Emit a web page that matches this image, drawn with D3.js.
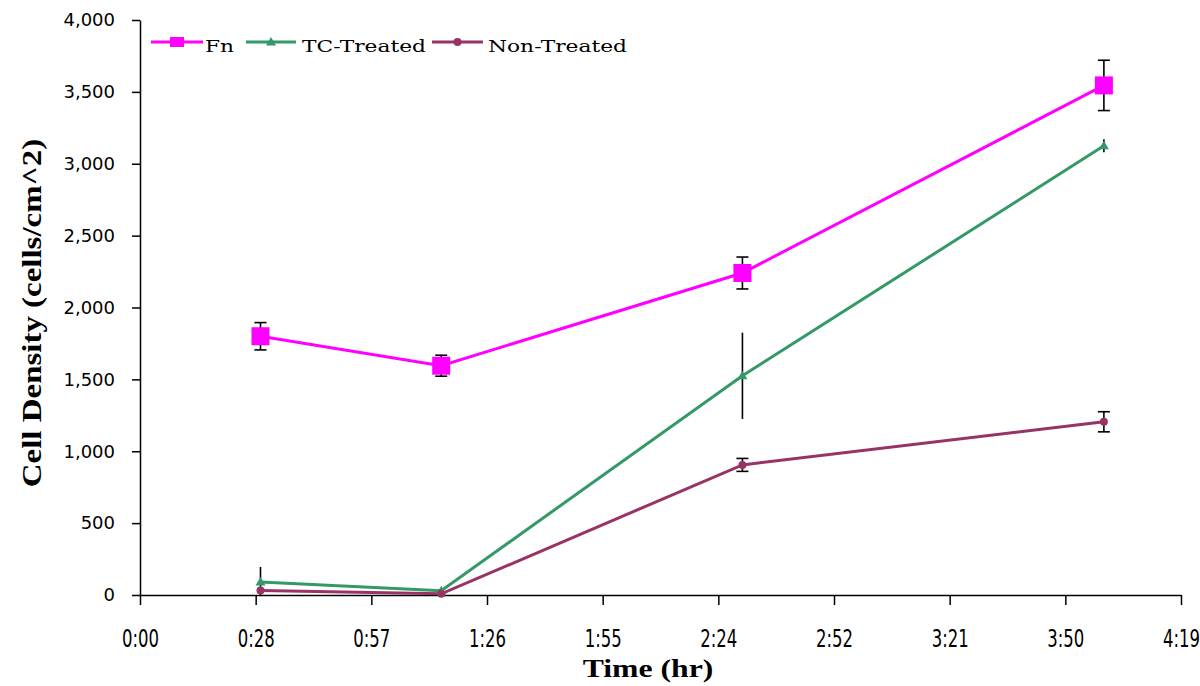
<!DOCTYPE html>
<html>
<head>
<meta charset="utf-8">
<script src="https://cdn.jsdelivr.net/npm/d3@7.9.0/dist/d3.min.js"></script>
<style>
  body { margin: 0; background: #fff; }
  svg { display: block; }
  text { font-family: "Liberation Serif", "DejaVu Serif", serif; fill: #000; }
</style>
</head>
<body>
<svg width="1200" height="686"></svg>
<script>
// time in minutes
const times = [30, 75, 150, 240];
const fn = [1800, 1595, 2240, 3545];
const fnErr = [95, 73, 111, 175];
const tc = [90, 30, 1525, 3125];
const tcErr = [105, 15, 300, 45];
const nonTreated = [32, 8, 905, 1205];
const nonErr = [0, 0, 45, 70];
const xTickLabels = ["0:00", "0:28", "0:57", "1:26", "1:55", "2:24", "2:52", "3:21", "3:50", "4:19"];
const yTicks = [0, 500, 1000, 1500, 2000, 2500, 3000, 3500, 4000];

const series = [
  {name: "Fn", values: fn, err: fnErr, color: "#ff00ff", marker: "square", caps: true},
  {name: "TC-Treated", values: tc, err: tcErr, color: "#339966", marker: "triangle", caps: false},
  {name: "Non-Treated", values: nonTreated, err: nonErr, color: "#993366", marker: "circle", caps: true}
];

const svg = d3.select("svg");
const plotLeft = 140, plotRight = 1181, plotTop = 20, plotBottom = 595;

const x = d3.scaleLinear().domain([0, 259.2]).range([plotLeft, plotRight]);
const y = d3.scaleLinear().domain([0, 4000]).range([plotBottom, plotTop]);

// x axis
const xAxis = svg.append("g")
  .attr("transform", `translate(0,${plotBottom})`)
  .call(d3.axisBottom(x)
    .tickValues(xTickLabels.map((d, i) => i * 28.8))
    .tickFormat("")
    .tickSize(10).tickSizeOuter(0));
xAxis.select(".domain").attr("stroke", "#000").attr("stroke-width", 1.5);
xAxis.selectAll(".tick line").attr("stroke", "#000").attr("stroke-width", 1.5);
xAxis.selectAll(".tick text").remove();
xAxis.selectAll(".tick").append("text")
  .attr("transform", "translate(0,52) scale(1,1.55)")
  .attr("text-anchor", "middle")
  .style("font-family", "'DejaVu Sans', sans-serif")
  .attr("font-size", 16.5)
  .text((d, i) => xTickLabels[i]);

// y axis
const yAxis = svg.append("g")
  .attr("transform", `translate(${plotLeft},0)`)
  .call(d3.axisLeft(y)
    .tickValues(yTicks)
    .tickFormat(d3.format(","))
    .tickSize(8).tickSizeOuter(0).tickPadding(17));
yAxis.select(".domain").attr("stroke", "#000").attr("stroke-width", 1.5);
yAxis.selectAll(".tick line").attr("stroke", "#000").attr("stroke-width", 1.5);
yAxis.selectAll("text").attr("font-size", 18).style("font-family", "'DejaVu Sans', sans-serif");

// axis titles
svg.append("text")
  .attr("transform", "translate(41,313) rotate(-90) scale(1.22,1)")
  .attr("text-anchor", "middle")
  .attr("font-size", 27).attr("font-weight", "bold")
  .text("Cell Density (cells/cm^2)");

svg.append("text")
  .attr("transform", "translate(648,677) scale(1.27,1)")
  .attr("text-anchor", "middle")
  .attr("font-size", 25).attr("font-weight", "bold")
  .text("Time (hr)");

const line = d3.line()
  .x((d, i) => x(times[i]))
  .y(d => y(d));

function drawMarker(g, type, color, cx, cy, big) {
  if (type === "square") {
    const w = big ? 18 : 14, h = big ? 18 : 10;
    g.append("rect").attr("x", cx - w / 2).attr("y", cy - h / 2)
      .attr("width", w).attr("height", h).attr("fill", color);
  } else if (type === "triangle") {
    const s = 5;
    g.append("path")
      .attr("d", `M${cx},${cy - s}L${cx + s},${cy + s * 0.7}L${cx - s},${cy + s * 0.7}Z`)
      .attr("fill", color);
  } else {
    g.append("circle").attr("cx", cx).attr("cy", cy).attr("r", 4).attr("fill", color);
  }
}

// lines
series.forEach(s => {
  svg.append("path")
    .datum(s.values)
    .attr("d", line)
    .attr("fill", "none")
    .attr("stroke", s.color)
    .attr("stroke-width", 3);
});

// error bars
const eb = svg.append("g").attr("stroke", "#000").attr("stroke-width", 1.6);
series.forEach(s => {
  s.values.forEach((v, i) => {
    if (!s.err[i]) return;
    const cx = x(times[i]);
    const y1 = y(v + s.err[i]), y2 = y(Math.max(0, v - s.err[i]));
    eb.append("line").attr("x1", cx).attr("x2", cx).attr("y1", y1).attr("y2", y2);
    if (s.caps) {
      eb.append("line").attr("x1", cx - 6).attr("x2", cx + 6).attr("y1", y1).attr("y2", y1);
      eb.append("line").attr("x1", cx - 6).attr("x2", cx + 6).attr("y1", y2).attr("y2", y2);
    }
  });
});

// markers
series.forEach(s => {
  const g = svg.append("g");
  s.values.forEach((v, i) => drawMarker(g, s.marker, s.color, x(times[i]), y(v), true));
});

// legend
const legendItems = [
  {x1: 151, x2: 203, tx: 205},
  {x1: 246, x2: 296, tx: 302},
  {x1: 432, x2: 483, tx: 488}
];
const lg = svg.append("g");
series.forEach((s, i) => {
  const it = legendItems[i];
  const ly = 42;
  lg.append("line").attr("x1", it.x1).attr("x2", it.x2).attr("y1", ly).attr("y2", ly)
    .attr("stroke", s.color).attr("stroke-width", 3);
  drawMarker(lg, s.marker, s.color, (it.x1 + it.x2) / 2, ly, false);
  lg.append("text")
    .attr("transform", `translate(${it.tx},${ly + 10}) scale(1.28,1)`)
    .style("font-family", "'DejaVu Serif', serif")
    .attr("font-size", 17).text(s.name);
});
</script>
</body>
</html>
